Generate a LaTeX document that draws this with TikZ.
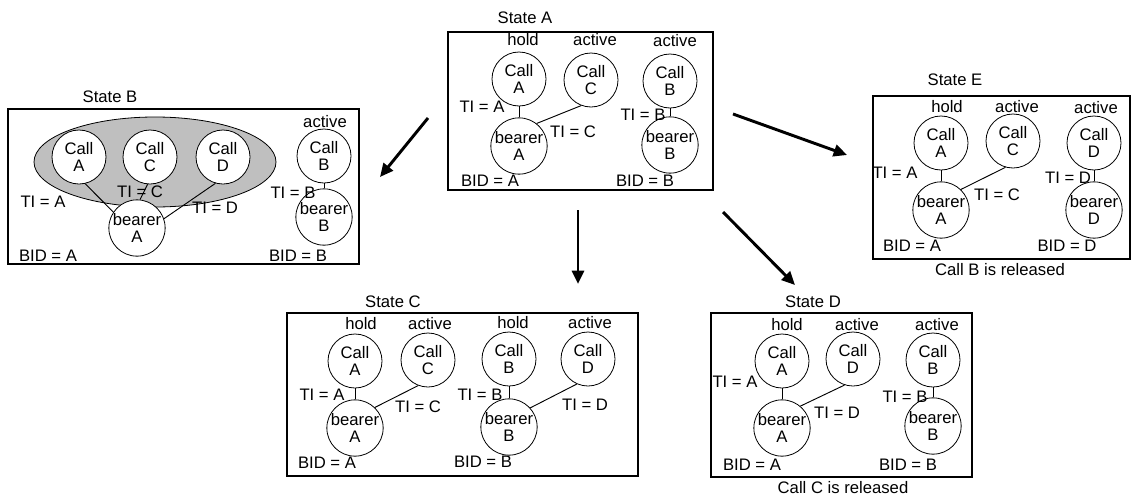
\documentclass[tikz,border=0pt]{standalone}
\usepackage{fontspec}
\setmainfont{Liberation Sans}
\usetikzlibrary{shapes.geometric,arrows.meta}
\begin{document}
\begin{tikzpicture}[x=0.75pt,y=-0.75pt,
  txt/.style={inner sep=0pt,font=\fontsize{12.5}{13}\selectfont},
  callnode/.style={draw,circle,minimum size=40.5pt,inner sep=0pt,align=center,fill=white,line width=0.6pt,font=\fontsize{12.5}{13}\selectfont},
  frame/.style={draw,line width=1pt},
  link/.style={line width=0.7pt},
  move/.style={line width=2.2pt,-{Triangle[length=10pt,width=9pt]}}]
\useasboundingbox (0,0) rectangle (1131,500);

% ---------------- State A ----------------
\draw[frame] (448,32) rectangle (713,190);
\node[txt] (aT) at (525,18) {State A};
\node[callnode] (aCA) at (519,79) {Call\\A};
\node[callnode] (aCC) at (591,80) {Call\\C};
\node[callnode] (aCB) at (670,81) {Call\\B};
\node[callnode] (aBA) at (519,146) {bearer\\A};
\node[callnode] (aBB) at (670,145) {bearer\\B};
\draw[link] (aCA.south) -- (aBA.north);
\draw[link] (aCC.249) -- (aBA.52);
\draw[link] (aCB.south) -- (aBB.north);
\node[txt] (aS1) at (523,40) {hold};
\node[txt] (aS2) at (595,40) {active};
\node[txt] (aS3) at (675,41) {active};
\node[txt] (aL1) at (482,107) {TI = A};
\node[txt] (aL2) at (573,132) {TI = C};
\node[txt] (aL3) at (643,115) {TI = B};
\node[txt] (aL4) at (490,181) {BID = A};
\node[txt] (aL5) at (645,181) {BID = B};

% ---------------- State B ----------------
\draw[frame] (8,109) rectangle (359,264);
\node[txt] (bT) at (110,97) {State B};
\node[draw,ellipse,fill=black!25,line width=0.6pt,minimum width=181.5pt,minimum height=67.5pt,inner sep=0pt] (bG) at (155,162) {};
\node[callnode] (bCA) at (79,157) {Call\\A};
\node[callnode] (bCC) at (150,157) {Call\\C};
\node[callnode] (bCD) at (223,157) {Call\\D};
\node[callnode] (bCB) at (324,156) {Call\\B};
\node[callnode] (bBA) at (137,228) {bearer\\A};
\node[callnode] (bBB) at (324,217) {bearer\\B};
\draw[link] (bCA.283) -- (bBA.146);
\draw[link] (bCC.265) -- (bBA.84);
\draw[link] (bCD.254) -- (bBA.19);
\draw[link] (bCB.south) -- (bBB.north);
\node[txt] (bS1) at (325,122) {active};
\node[txt] (bL1) at (43,202) {TI = A};
\node[txt] (bL2) at (140,192) {TI = C};
\node[txt] (bL3) at (215,208) {TI = D};
\node[txt] (bL4) at (293,193) {TI = B};
\node[txt] (bL5) at (48,256) {BID = A};
\node[txt] (bL6) at (298,256) {BID = B};

% ---------------- State E ----------------
\draw[frame] (873,96) rectangle (1130,259);
\node[txt] (eT) at (955,80) {State E};
\node[txt] (eR) at (1000,270) {Call B is released};
\node[callnode] (eCA) at (941,143) {Call\\A};
\node[callnode] (eCC) at (1013,141) {Call\\C};
\node[callnode] (eCD) at (1094,143) {Call\\D};
\node[callnode] (eBA) at (941,210) {bearer\\A};
\node[callnode] (eBD) at (1094,210) {bearer\\D};
\draw[link] (eCA.south) -- (eBA.north);
\draw[link] (eCC.254) -- (eBA.46);
\draw[link] (eCD.south) -- (eBD.north);
\node[txt] (eS1) at (947,107) {hold};
\node[txt] (eS2) at (1017,107) {active};
\node[txt] (eS3) at (1096,108) {active};
\node[txt] (eL1) at (895,173) {TI = A};
\node[txt] (eL2) at (997,195) {TI = C};
\node[txt] (eL3) at (1068,178) {TI = D};
\node[txt] (eL4) at (912,246) {BID = A};
\node[txt] (eL5) at (1067,246) {BID = D};

% ---------------- State C ----------------
\draw[frame] (287,313) rectangle (638,476);
\node[txt] (cT) at (393,302) {State C};
\node[callnode] (cCA) at (355,361) {Call\\A};
\node[callnode] (cCC) at (428,360) {Call\\C};
\node[callnode] (cCB) at (509,359) {Call\\B};
\node[callnode] (cCD) at (588,359) {Call\\D};
\node[callnode] (cBA) at (355,428) {bearer\\A};
\node[callnode] (cBB) at (509,427) {bearer\\B};
\draw[link] (cCA.south) -- (cBA.north);
\draw[link] (cCC.249) -- (cBA.46);
\draw[link] (cCB.south) -- (cBB.north);
\draw[link] (cCD.246) -- (cBB.42);
\node[txt] (cS1) at (361,324) {hold};
\node[txt] (cS2) at (430,324) {active};
\node[txt] (cS3) at (513,323) {hold};
\node[txt] (cS4) at (590,323) {active};
\node[txt] (cL1) at (322,395) {TI = A};
\node[txt] (cL2) at (418,407) {TI = C};
\node[txt] (cL3) at (480,395) {TI = B};
\node[txt] (cL4) at (585,405) {TI = D};
\node[txt] (cL5) at (327,463) {BID = A};
\node[txt] (cL6) at (483,462) {BID = B};

% ---------------- State D ----------------
\draw[frame] (711,313) rectangle (972,477);
\node[txt] (dT) at (813,302) {State D};
\node[txt] (dR) at (843,488) {Call C is released};
\node[callnode] (dCA) at (782,361) {Call\\A};
\node[callnode] (dCD) at (853,359) {Call\\D};
\node[callnode] (dCB) at (933,360) {Call\\B};
\node[callnode] (dBA) at (782,428) {bearer\\A};
\node[callnode] (dBB) at (933,426) {bearer\\B};
\draw[link] (dCA.south) -- (dBA.north);
\draw[link] (dCD.252) -- (dBA.50);
\draw[link] (dCB.south) -- (dBB.north);
\node[txt] (dS1) at (787,325) {hold};
\node[txt] (dS2) at (857,325) {active};
\node[txt] (dS3) at (937,325) {active};
\node[txt] (dL1) at (735,382) {TI = A};
\node[txt] (dL2) at (837,413) {TI = D};
\node[txt] (dL3) at (905,397) {TI = B};
\node[txt] (dL4) at (752,465) {BID = A};
\node[txt] (dL5) at (908,465) {BID = B};

% ---------------- transitions ----------------
\coordinate (m1s) at (428,118); \coordinate (m1e) at (380,177);
\coordinate (m2s) at (733,114); \coordinate (m2e) at (847,155);
\coordinate (m3s) at (578,210); \coordinate (m3e) at (578,284);
\coordinate (m4s) at (723,212); \coordinate (m4e) at (795,285);
\draw[move] (m1s) -- (m1e);
\draw[move] (m2s) -- (m2e);
\draw[move] (m3s) -- (m3e);
\draw[move] (m4s) -- (m4e);
\end{tikzpicture}
\end{document}
